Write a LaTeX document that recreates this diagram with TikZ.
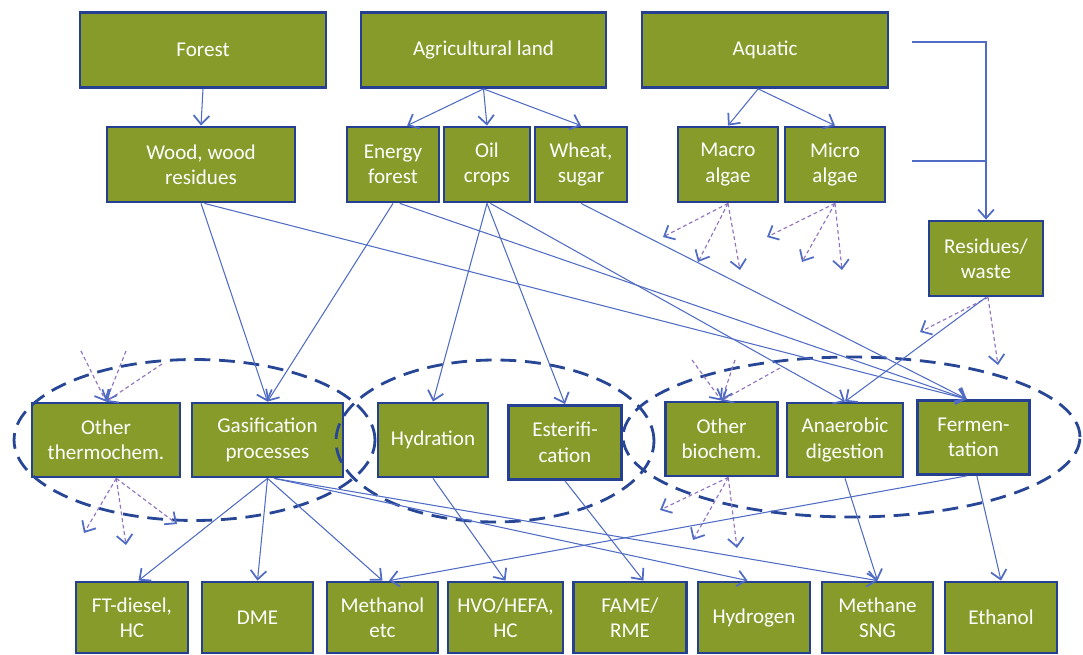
\documentclass[tikz,border=0pt]{standalone}
\usepackage{fontspec}
\setmainfont{Carlito}
\usepackage{tikz}
\usetikzlibrary{arrows.meta}
\usetikzlibrary{shapes.geometric}
\definecolor{boxfill}{RGB}{134,155,42}
\definecolor{boxline}{RGB}{38,64,145}
\definecolor{linkblue}{RGB}{80,108,196}
\definecolor{dashpurple}{RGB}{145,115,190}
\definecolor{groupblue}{RGB}{40,70,150}
\tikzset{
    Node/.style = {rectangle, draw=boxline, fill=boxfill, line width=1.6pt, text=white, align=center, inner sep=2pt, minimum height=1.5cm, font=\fontsize{12}{14.5}\selectfont}
}
\tikzset{
    Edge/.style = {draw=linkblue, line width=0.6pt, -{Straight Barb[length=5pt,width=9pt,line width=1pt]}}
}
\tikzset{
    Weak/.style = {draw=dashpurple, line width=0.65pt, dash pattern=on 2.2pt off 1.6pt, -{Straight Barb[length=5pt,width=9pt,line width=1pt,color=linkblue]}}
}
\tikzset{
    Group/.style = {ellipse, draw=groupblue, line width=1.6pt, dash pattern=on 9pt off 5pt, inner sep=0pt}
}

\begin{document}
\begin{tikzpicture}[x=0.02cm, y=-0.02cm]
\useasboundingbox (0,0) rectangle (1083,655);

\node[Node, minimum width=4.92cm] at (203,50) (forest) {Forest};
\node[Node, minimum width=4.90cm] at (483.5,50) (agri) {Agricultural land};
\node[Node, minimum width=4.92cm] at (765,50) (aquatic) {Aquatic};

\node[Node, minimum width=3.76cm] at (201,164.5) (wood) {Wood, wood\\residues};
\node[Node, minimum width=1.84cm] at (393,164.5) (energy) {Energy\\forest};
\node[Node, minimum width=1.72cm] at (487,164.5) (oil) {Oil\\crops};
\node[Node, minimum width=1.84cm] at (581,164.5) (wheat) {Wheat,\\sugar};
\node[Node, minimum width=2.00cm] at (728,164.5) (macro) {Macro\\algae};
\node[Node, minimum width=2.00cm] at (835,164.5) (micro) {Micro\\algae};
\node[Node, minimum width=2.28cm] at (986,258.5) (residues) {Residues/\\waste};

\node[Node, minimum width=2.96cm, minimum height=1.48cm] at (106,440) (othertc) {Other\\thermochem.};
\node[Node, minimum width=3.02cm, minimum height=1.48cm] at (267.5,440) (gasif) {Gasification\\processes};
\node[Node, minimum width=2.20cm, minimum height=1.48cm] at (433,440) (hydr) {Hydration};
\node[Node, minimum width=2.26cm, minimum height=1.48cm] at (565,442.5) (ester) {Esterifi-\\cation};
\node[Node, minimum width=2.24cm, minimum height=1.48cm] at (721.5,439) (otherbc) {Other\\biochem.};
\node[Node, minimum width=2.32cm, minimum height=1.48cm] at (845,440) (anaer) {Anaerobic\\digestion};
\node[Node, minimum width=2.24cm, minimum height=1.48cm] at (973.5,437.5) (ferm) {Fermen-\\tation};

\node[Node, minimum width=2.24cm, minimum height=1.42cm] at (132,617.5) (ftd) {FT-diesel,\\HC};
\node[Node, minimum width=2.22cm, minimum height=1.42cm] at (257.5,617.5) (dme) {DME};
\node[Node, minimum width=2.22cm, minimum height=1.42cm] at (382.5,617.5) (meoh) {Methanol\\etc};
\node[Node, minimum width=2.30cm, minimum height=1.42cm] at (505.5,617.5) (hvo) {HVO/HEFA,\\HC};
\node[Node, minimum width=2.26cm, minimum height=1.42cm] at (630,617.5) (fame) {FAME/\\RME};
\node[Node, minimum width=2.24cm, minimum height=1.42cm] at (754,617.5) (hydrogen) {Hydrogen};
\node[Node, minimum width=2.22cm, minimum height=1.42cm] at (877.5,617.5) (methane) {Methane\\SNG};
\node[Node, minimum width=2.24cm, minimum height=1.42cm] at (1001,617.5) (ethanol) {Ethanol};

\node[Group, minimum width=7.22cm, minimum height=3.22cm] at (194.5,440) (grpthermo) {};
\node[Group, minimum width=6.36cm, minimum height=3.24cm] at (495,441) (grpoil) {};
\node[Group, minimum width=9.14cm, minimum height=3.20cm] at (851.5,437) (grpbio) {};

\coordinate (aq1) at (912,42);
\coordinate (aq2) at (912,161);
\coordinate (aq3) at (986,161);
\coordinate (ma1) at (663,237);
\coordinate (ma2) at (698,262);
\coordinate (ma3) at (740,270);
\coordinate (mi1) at (767,237);
\coordinate (mi2) at (802,262);
\coordinate (mi3) at (842,270);
\coordinate (re1) at (920,332);
\coordinate (re2) at (998,365);
\coordinate (ti1) at (81,351);
\coordinate (ti2) at (126,351);
\coordinate (ti3) at (162,364);
\coordinate (to1) at (84,533);
\coordinate (to2) at (126,545);
\coordinate (to3) at (177,524);
\coordinate (bi1) at (692,360);
\coordinate (bi2) at (735,360);
\coordinate (bi3) at (780,368);
\coordinate (bo1) at (660,510);
\coordinate (bo2) at (693,540);
\coordinate (bo3) at (737,548);

\path (forest.south) edge [Edge] (wood.north);
\path (agri.south) edge [Edge] (energy.70);
\path (agri.south) edge [Edge] (oil.north);
\path (agri.south) edge [Edge] (wheat.north);
\path (aquatic.-100) edge [Edge] (macro.north);
\path (aquatic.-100) edge [Edge] (micro.north);
\draw [Edge] (aq1) -| (residues.north);
\path (aq2) edge [Edge,-] (aq3);

\path (macro.south) edge [Weak] (ma1);
\path (macro.south) edge [Weak] (ma2);
\path (macro.south) edge [Weak] (ma3);
\path (micro.south) edge [Weak] (mi1);
\path (micro.south) edge [Weak] (mi2);
\path (micro.south) edge [Weak] (mi3);
\path (residues.-87) edge [Weak] (re1);
\path (residues.-87) edge [Weak] (re2);

\path (wood.south) edge [Edge] (gasif.north);
\path (wood.-85) edge [Edge] (ferm.100);
\path (energy.south) edge [Edge] (gasif.north);
\path (energy.-80) edge [Edge] (ferm.100);
\path (oil.south) edge [Edge] (hydr.north);
\path (oil.south) edge [Edge] (ester.north);
\path (oil.-85) edge [Edge] (anaer.north);
\path (wheat.south) edge [Edge] (ferm.100);
\path (residues.south) edge [Edge] (anaer.north);

\path (ti1) edge [Weak] (othertc.north);
\path (ti2) edge [Weak] (othertc.north);
\path (ti3) edge [Weak] (othertc.north);
\path (othertc.-75) edge [Weak] (to1);
\path (othertc.-75) edge [Weak] (to2);
\path (othertc.-75) edge [Weak] (to3);
\path (bi1) edge [Weak] (otherbc.north);
\path (bi2) edge [Weak] (otherbc.north);
\path (bi3) edge [Weak] (otherbc.north);
\path (otherbc.-80) edge [Weak] (bo1);
\path (otherbc.-80) edge [Weak] (bo2);
\path (otherbc.-80) edge [Weak] (bo3);

\path (gasif.south) edge [Edge] (ftd.80);
\path (gasif.south) edge [Edge] (dme.north);
\path (gasif.south) edge [Edge] (meoh.north);
\path (gasif.-80) edge [Edge] (hydrogen.100);
\path (gasif.-80) edge [Edge] (methane.north);
\path (hydr.south) edge [Edge] (hvo.north);
\path (ester.south) edge [Edge] (fame.70);
\path (anaer.south) edge [Edge] (methane.north);
\path (ferm.-100) edge [Edge] (meoh.80);
\path (ferm.-85) edge [Edge] (ethanol.north);
\end{tikzpicture}
\end{document}
